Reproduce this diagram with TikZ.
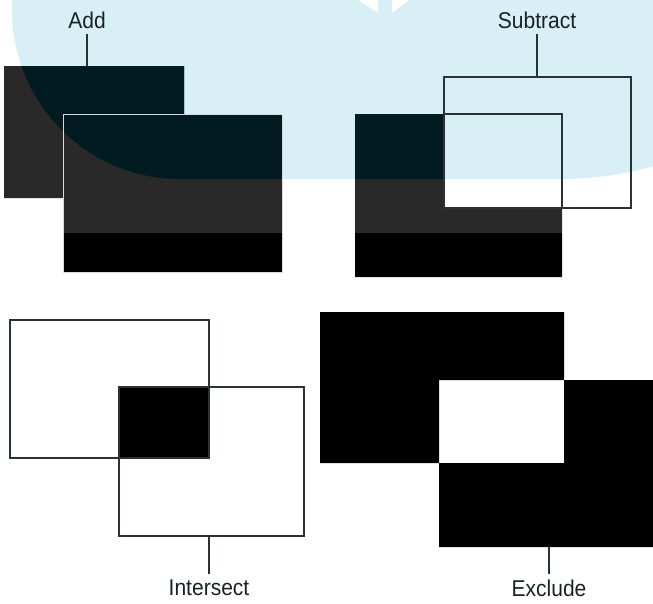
\documentclass[tikz,border=0pt]{standalone}
\usepackage{fontspec}
\setmainfont{Liberation Sans}[FakeStretch=0.92]
\usepackage{xcolor}
\usepackage{tikz}
\usetikzlibrary{positioning}
\definecolor{bgcyan}{RGB}{216,239,245}
\definecolor{boxgray}{RGB}{41,41,41}
\definecolor{boxteal}{RGB}{2,27,32}
\definecolor{edgegray}{RGB}{42,50,52}
\definecolor{lbltext}{RGB}{24,34,38}
\newcommand{\bgpath}{(12,-10) -- (12,10) .. controls (12,103) and (87,179) .. (180,179) -- (560,179) .. controls (600,179) and (630,173) .. (670,162) -- (670,-10) -- cycle}

\begin{document}
\begin{tikzpicture}[x=0.02cm,y=-0.02cm,font=\fontsize{13}{15}\selectfont,
  lbl/.style={inner sep=3pt,text=lbltext},
  edge/.style={draw=edgegray,line width=0.8pt}]
\path[use as bounding box,clip] (0,0) rectangle (653,603);
\fill[bgcyan] \bgpath;
\fill[white] (357,-1) -- (378,-1) -- (378,13) -- cycle (392,-1) -- (410,-1) -- (392,13) -- cycle;
% add
\fill[boxgray] (4,66) rectangle (184,198) (63,114) rectangle (282,272);
\begin{scope}
\clip \bgpath;
\fill[boxteal] (4,66) rectangle (184,198) (63,114) rectangle (282,272);
\end{scope}
\fill[black] (63,233) rectangle (282,272);
\draw[gray!30,line width=0.5pt] (63,114) rectangle (282,272);
% subtract
\fill[boxgray,even odd rule] (355,114) rectangle (562,277) (444,114) rectangle (562,208);
\begin{scope}
\clip \bgpath;
\fill[boxteal,even odd rule] (355,114) rectangle (562,277) (444,114) rectangle (562,208);
\end{scope}
\fill[black] (355,233) rectangle (562,277);
\draw[edge] (444,114) -- (562,114) -- (562,208) (444,77) rectangle (631,208);
% intersect
\fill[black] (119,387) rectangle (209,458);
\draw[edge] (10,320) rectangle (209,458) (119,387) rectangle (304,536);
% exclude
\fill[black,even odd rule] (320,312) rectangle (564,463) (439,380) rectangle (660,547);
% labels
\foreach \nm/\txt/\x/\ya/\yb in {add/Add/87/20/66,sub/Subtract/537/20/77,isect/Intersect/209/588/536,excl/Exclude/549/588/547}{
  \node[lbl] (\nm) at (\x,\ya) {\txt};
  \coordinate (\nm-in) at (\x,\yb);
  \draw[edge] (\nm) -- (\nm-in);
}
\end{tikzpicture}
\end{document}
